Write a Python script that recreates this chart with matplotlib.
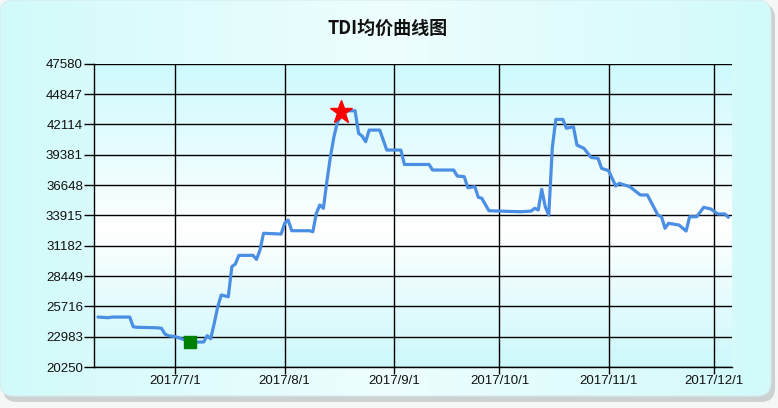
import matplotlib
matplotlib.use('Agg')
import matplotlib.pyplot as plt
import numpy as np
import pandas as pd
from matplotlib.patches import FancyBboxPatch

plt.rcParams['font.family'] = ['Liberation Sans', 'DejaVu Sans']

# ---- data ----
dates = ['2017-06-09', '2017-06-12', '2017-06-13', '2017-06-18', '2017-06-19', '2017-06-20',
         '2017-06-26', '2017-06-27', '2017-06-28', '2017-06-29', '2017-07-01', '2017-07-03',
         '2017-07-05', '2017-07-09', '2017-07-10', '2017-07-11', '2017-07-12', '2017-07-13',
         '2017-07-14', '2017-07-16', '2017-07-17', '2017-07-18', '2017-07-19', '2017-07-23',
         '2017-07-24', '2017-07-25', '2017-07-26', '2017-07-31', '2017-08-01', '2017-08-02',
         '2017-08-03', '2017-08-08', '2017-08-09', '2017-08-10', '2017-08-11', '2017-08-12',
         '2017-08-13', '2017-08-14', '2017-08-15', '2017-08-16', '2017-08-17', '2017-08-18',
         '2017-08-21', '2017-08-22', '2017-08-23', '2017-08-24', '2017-08-25', '2017-08-28',
         '2017-08-30', '2017-09-03', '2017-09-04', '2017-09-11', '2017-09-12', '2017-09-18',
         '2017-09-19', '2017-09-21', '2017-09-22', '2017-09-24', '2017-09-25', '2017-09-26',
         '2017-09-28', '2017-10-07', '2017-10-10', '2017-10-11', '2017-10-12', '2017-10-13',
         '2017-10-14', '2017-10-15', '2017-10-16', '2017-10-17', '2017-10-19', '2017-10-20',
         '2017-10-22', '2017-10-23', '2017-10-25', '2017-10-27', '2017-10-29', '2017-10-30',
         '2017-11-01', '2017-11-03', '2017-11-04', '2017-11-07', '2017-11-10', '2017-11-12',
         '2017-11-15', '2017-11-16', '2017-11-17', '2017-11-18', '2017-11-21', '2017-11-23',
         '2017-11-24', '2017-11-26', '2017-11-28', '2017-11-30', '2017-12-02', '2017-12-04',
         '2017-12-05']
prices = [24750, 24690, 24750, 24750, 23880, 23830,
          23780, 23740, 23220, 23070, 22980, 22770,
          22500, 22500, 23070, 22800, 24180, 25680,
          26740, 26580, 29290, 29530, 30310, 30310,
          29950, 30790, 32300, 32230, 33200, 33490,
          32530, 32530, 32440, 34100, 34850, 34550,
          37000, 39200, 41000, 42350, 42800, 43340,
          43340, 41300, 41060, 40550, 41600, 41600,
          39800, 39800, 38500, 38500, 38000, 38000,
          37460, 37400, 36400, 36500, 35540, 35450,
          34330, 34240, 34300, 34550, 34400, 36260,
          34690, 33940, 40000, 42560, 42560, 41760,
          41900, 40250, 39950, 39140, 39050, 38150,
          37940, 36560, 36800, 36500, 35750, 35750,
          33940, 33790, 32750, 33200, 33040, 32500,
          33790, 33790, 34640, 34490, 34040, 34040,
          33740]
high_date, high_value = '2017-08-17', 43250
low_date, low_value = '2017-07-05', 22500

y_ticks = [20250, 22983, 25716, 28449, 31182, 33915, 36648, 39381, 42114, 44847, 47580]
x_ticks = ['2017-07-01', '2017-08-01', '2017-09-01', '2017-10-01', '2017-11-01', '2017-12-01']
x_labels = ['2017/7/1', '2017/8/1', '2017/9/1', '2017/10/1', '2017/11/1', '2017/12/1']
title = 'TDI均价曲线图'

W, H = 778, 408
fig = plt.figure(figsize=(W / 100, H / 100), dpi=100)
fig.patch.set_facecolor((0.96, 0.97, 0.97))

# ---- background panel ----
bg = fig.add_axes([0, 0, 1, 1])
bg.axis('off')
shadow = FancyBboxPatch((3, 4), 772, 398, boxstyle='round,pad=0,rounding_size=14',
                        facecolor=(0.80, 0.82, 0.82), edgecolor='none', zorder=0)
bg.add_patch(shadow)
panel = FancyBboxPatch((0, 0), 771, 396, boxstyle='round,pad=0,rounding_size=14',
                       facecolor='none', edgecolor=(0.85, 0.92, 0.92), linewidth=0.8,
                       zorder=3)
bg.add_patch(panel)
xs = np.linspace(0, 1, 256)
c_edge = np.array([210, 250, 250]) / 255
c_mid = np.array([238, 254, 254]) / 255
t = 1 - np.abs(xs - 0.5) * 2
grad = c_edge[None, :] * (1 - t[:, None]) + c_mid[None, :] * t[:, None]
img = bg.imshow(grad[None, :, :], extent=(0, 771, 396, 0), aspect='auto', zorder=2)
img.set_clip_path(panel)
bg.set_xlim(0, W)
bg.set_ylim(H, 0)

# ---- main axes ----
L, R, T, B = 94, 732, 63.7, 367
ax = fig.add_axes([L / W, 1 - B / H, (R - L) / W, (B - T) / H])
ax.patch.set_alpha(0)

ys = np.linspace(0, 1, 256)
c_top = np.array([205, 250, 254]) / 255
c_white = np.array([255, 255, 255]) / 255
c_bot = np.array([205, 248, 252]) / 255
vals = []
for y in ys:  # y=0 top
    if y < 0.55:
        f = y / 0.55
        vals.append(c_top * (1 - f) + c_white * f)
    else:
        f = (y - 0.55) / 0.45
        vals.append(c_white * (1 - f) + c_bot * f)
vgrad = np.array(vals)
ax.imshow(vgrad[:, None, :], extent=(0, 1, 0, 1), transform=ax.transAxes,
          aspect='auto', zorder=0)

d = pd.to_datetime(dates)
ax.plot(d, prices, color='#4a8fe3', linewidth=2.3, solid_joinstyle='round',
        solid_capstyle='round', zorder=3)
ax.plot(pd.to_datetime([low_date]), [low_value], marker='s', color='#008000',
        markersize=8, linestyle='none', zorder=4)
ax.plot(pd.to_datetime([high_date]), [high_value], marker='*', color='#ff0000',
        markersize=17, linestyle='none', zorder=4)

x0 = pd.Timestamp('2017-07-01') - pd.Timedelta(days=23.14)
x1 = pd.Timestamp('2017-12-01') + pd.Timedelta(days=5.03)
ax.set_xlim(x0, x1)
ax.set_ylim(y_ticks[0], y_ticks[-1])

ax.set_yticks(y_ticks)
ax.set_yticklabels([str(v) for v in y_ticks])
ax.set_xticks(pd.to_datetime(x_ticks))
ax.set_xticklabels(x_labels)
ax.grid(True, color='black', linewidth=1.0)
ax.set_axisbelow(False)
for gl in ax.get_xgridlines() + ax.get_ygridlines():
    gl.set_zorder(2)

for s in ['top', 'right']:
    ax.spines[s].set_visible(False)
for s in ['left', 'bottom']:
    ax.spines[s].set_color('black')
    ax.spines[s].set_linewidth(1.0)

ax.tick_params(axis='y', length=7, width=1, color='black', labelsize=9.5, pad=1,
               labelcolor='#111111')
ax.tick_params(axis='x', length=5, width=1, color='black', labelsize=9.5, pad=1,
               labelcolor='#111111')

fig.text(388 / W, 1 - 28 / H, title, ha='center', va='center', fontsize=13,
         fontweight='bold', family=['Noto Sans CJK SC', 'DejaVu Sans'], color='#111111')

fig.savefig('out.png', dpi=100, facecolor=fig.get_facecolor())
